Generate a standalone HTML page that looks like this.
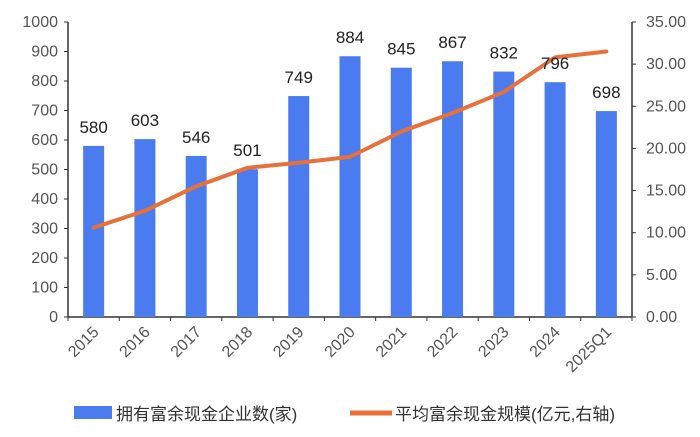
<!DOCTYPE html>
<html><head><meta charset="utf-8"><style>
body{margin:0;background:#fff;}
svg text{font-family:"Liberation Sans","Noto Sans CJK SC",sans-serif;}
</style></head><body>
<svg width="700" height="432" xmlns="http://www.w3.org/2000/svg">
<g id="axes"></g><g id="bars"></g><g id="line"></g><g id="labels"></g>
<g>
<rect x="74" y="406" width="38" height="13" fill="#4a7cf0"/>
<text x="116" y="420" font-size="17" fill="#333">拥有富余现金企业数(家)</text>
<line x1="350" y1="413" x2="392" y2="413" stroke="#e8703a" stroke-width="5"/>
<text x="395" y="420" font-size="17" fill="#333">平均富余现金规模(亿元,右轴)</text>
</g>
</svg>
<script>
const categories=["2015","2016","2017","2018","2019","2020","2021","2022","2023","2024","2025Q1"];
const barValues=[580,603,546,501,749,884,845,867,832,796,698];
const lineValues=[10.6,12.6,15.5,17.7,18.3,19.0,22.0,24.2,26.7,30.8,31.5];
const leftTicks=[0,100,200,300,400,500,600,700,800,900,1000];
const rightTicks=["0.00","5.00","10.00","15.00","20.00","25.00","30.00","35.00"];
const NS="http://www.w3.org/2000/svg";
const X0=68,X1=632,Y0=317,Y1=22;
const band=(X1-X0)/categories.length;
const xc=i=>X0+band*(i+0.5);
const yL=v=>Y0-(v/1000)*(Y0-Y1);
const yR=v=>Y0-(v/35)*(Y0-Y1);
function mk(t,a,p){const e=document.createElementNS(NS,t);for(const k in a)e.setAttribute(k,a[k]);p.appendChild(e);return e;}
const axes=document.getElementById('axes');
let e=mk('line',{x1:X0,y1:Y1,x2:X0,y2:Y0,stroke:'#333','stroke-width':1.5},axes);


e=mk('line',{x1:X1,y1:Y1,x2:X1,y2:Y0,stroke:'#333','stroke-width':1.5},axes);


e=mk('line',{x1:X0,y1:Y0,x2:X1,y2:Y0,stroke:'#333','stroke-width':1.5},axes);


leftTicks.forEach(v=>{const y=yL(v);
mk('line',{x1:X0-4,y1:y,x2:X0,y2:y,stroke:'#333'},axes);
const t=mk('text',{x:X0-10,y:y+5,'font-size':16,fill:'#555','text-anchor':'end'},axes);t.textContent=v;

});
rightTicks.forEach(s=>{const y=yR(parseFloat(s));
mk('line',{x1:X1,y1:y,x2:X1+4,y2:y,stroke:'#333'},axes);
const t=mk('text',{x:X1+14,y:y+5,'font-size':16,fill:'#555'},axes);t.textContent=s;

});
for(let i=0;i<=categories.length;i++){const x=X0+band*i;mk('line',{x1:x,y1:Y0,x2:x,y2:Y0+4,stroke:'#333'},axes);}
const bars=document.getElementById('bars'),labels=document.getElementById('labels');
categories.forEach((c,i)=>{
const y=yL(barValues[i]);
const r=mk('rect',{x:xc(i)-10.5,y:y,width:21,height:Y0-y,fill:'#4a7cf0'},bars);


const t=mk('text',{x:xc(i),y:y-13,'font-size':17,fill:'#222','text-anchor':'middle'},labels);t.textContent=barValues[i];


const xl=mk('text',{x:xc(i)+6,y:Y0+16,'font-size':16,fill:'#555','text-anchor':'end',transform:`rotate(-45 ${xc(i)+6} ${Y0+16})`},labels);xl.textContent=c;


});
const pts=lineValues.map((v,i)=>xc(i)+','+yR(v)).join(' ');
const pl=mk('polyline',{points:pts,fill:'none',stroke:'#e8703a','stroke-width':4,'stroke-linejoin':'round','stroke-linecap':'round'},document.getElementById('line'));


</script>
</body></html>
